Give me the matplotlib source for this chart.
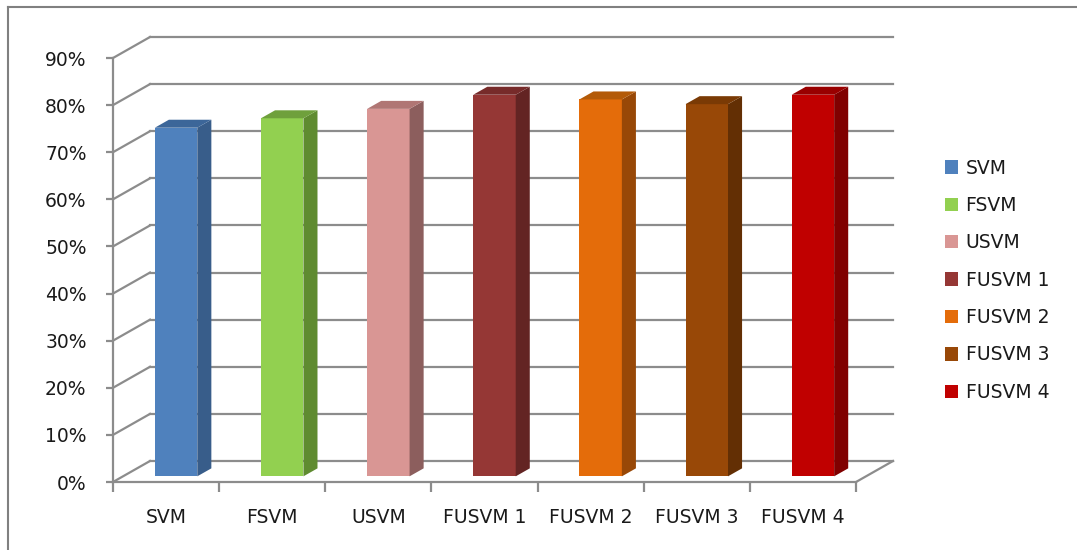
import matplotlib
matplotlib.use("Agg")
import matplotlib.pyplot as plt
from matplotlib.lines import Line2D
from matplotlib.patches import Patch

# data
models = ["SVM", "FSVM", "USVM", "FUSVM 1", "FUSVM 2", "FUSVM 3", "FUSVM 4"]
accuracy = [74, 76, 78, 81, 80, 79, 81]
yticks = [0, 10, 20, 30, 40, 50, 60, 70, 80, 90]

front_colors = ["#4F81BD", "#92D050", "#D99694", "#953735", "#E46C0A", "#984807", "#C00000"]
side_colors = ["#385D8A", "#5F8B30", "#8C5E5D", "#632423", "#984807", "#632F04", "#800000"]
top_colors = ["#3C6699", "#6FA03C", "#B07674", "#772B2A", "#B35A08", "#7A3A05", "#990000"]

GRID = "#8C8C8C"
plt.rcParams["font.family"] = ["DejaVu Sans"]

W, H = 1077, 550
fig = plt.figure(figsize=(W / 100, H / 100), dpi=100)
ax = fig.add_axes([113 / W, (H - 482) / H, (856 - 113) / W, (482 - 58) / H])

n = len(models)
ax.set_xlim(-0.5, n - 0.5)
ax.set_ylim(0, 90)

# depth of the fake 3d box, in data units
dx = 37 / ((856 - 113) / n)
dy = 21 / ((482 - 58) / 90)

lw = 1.6
# back wall and left wall
for v in yticks:
    ax.plot([-0.5, -0.5 + dx], [v, v + dy], color=GRID, lw=lw, clip_on=False, zorder=1)
    ax.plot([-0.5 + dx, n - 0.5 + dx], [v + dy, v + dy], color=GRID, lw=lw, clip_on=False, zorder=1)
# floor right edge
ax.plot([n - 0.5, n - 0.5 + dx], [0, dy], color=GRID, lw=lw, clip_on=False, zorder=1)

# bars
f0, f1 = 0.27, 0.65
bw = 0.40
xs = list(range(n))
ax.bar([x + f0 * dx for x in xs], accuracy, width=bw, bottom=f0 * dy,
       color=front_colors, zorder=3, clip_on=False)
for x, v, sc, tc in zip(xs, accuracy, side_colors, top_colors):
    xl = x - bw / 2
    xr = x + bw / 2
    ax.fill([xr + f0 * dx, xr + f1 * dx, xr + f1 * dx, xr + f0 * dx],
            [f0 * dy, f1 * dy, v + f1 * dy, v + f0 * dy],
            color=sc, zorder=3, clip_on=False, lw=0)
    ax.fill([xl + f0 * dx, xr + f0 * dx, xr + f1 * dx, xl + f1 * dx],
            [v + f0 * dy, v + f0 * dy, v + f1 * dy, v + f1 * dy],
            color=tc, zorder=3, clip_on=False, lw=0)

# axes lines and ticks
for s in ["top", "right"]:
    ax.spines[s].set_visible(False)
for s in ["left", "bottom"]:
    ax.spines[s].set_color(GRID)
    ax.spines[s].set_linewidth(lw)
    ax.spines[s].set_zorder(2)
ax.set_facecolor("none")

fs = 13.5
ax.set_yticks(yticks)
ax.set_yticklabels([f"{v}%" for v in yticks])
ax.tick_params(axis="y", length=5, width=lw, color=GRID, pad=14, labelsize=fs, labelcolor="#1a1a1a")

ax.set_xticks(xs)
ax.set_xticklabels(models)
ax.set_xticks([x - 0.5 for x in range(n + 1)], minor=True)
ax.tick_params(axis="x", which="major", length=0, pad=19, labelsize=fs, labelcolor="#1a1a1a")
ax.tick_params(axis="x", which="minor", length=7, width=lw, color=GRID)

# legend
handles = [Patch(facecolor=c, edgecolor="none") for c in front_colors]
fig.legend(handles, models, loc="upper left", bbox_to_anchor=(937 / W, 1 - 151 / H),
           frameon=False, fontsize=fs, labelspacing=0.98, handlelength=0.72,
           handleheight=0.72, handletextpad=0.4, borderaxespad=0, labelcolor="#1a1a1a")

# chart area border (only left and top visible in the crop)
fig.add_artist(Line2D([8 / W, 8 / W], [0, 1 - 7 / H], color="#808080", lw=1.5, transform=fig.transFigure))
fig.add_artist(Line2D([8 / W, 1], [1 - 7 / H, 1 - 7 / H], color="#808080", lw=1.5, transform=fig.transFigure))

fig.savefig("out.png", dpi=100)
